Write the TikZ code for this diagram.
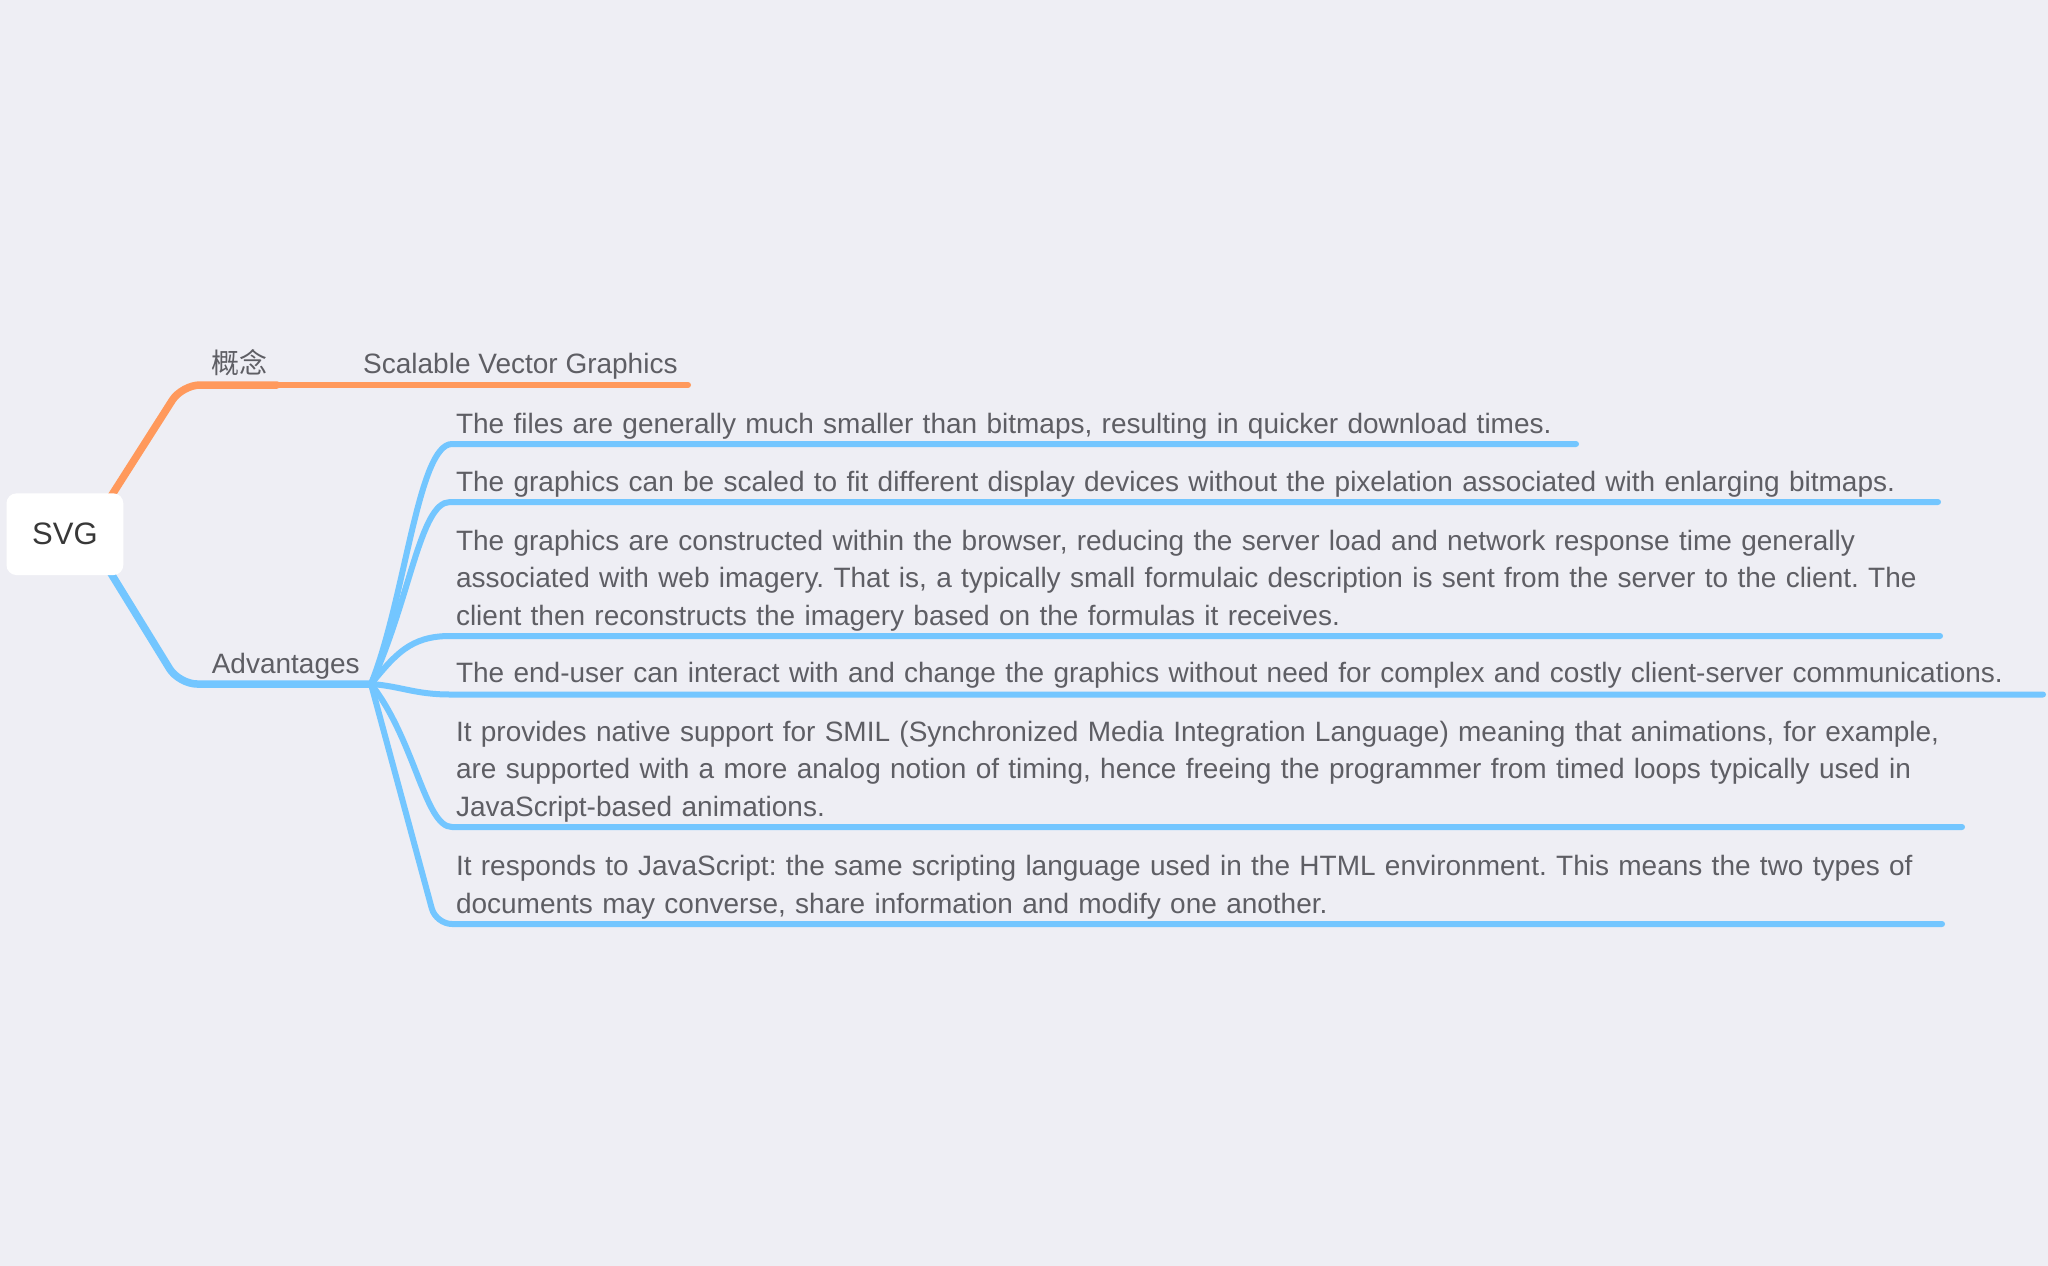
\documentclass[tikz,border=0pt]{standalone}
\usepackage{fontspec}
\setmainfont{Liberation Sans}
\newfontfamily\cjkfont{Noto Sans CJK SC}
\usetikzlibrary{calc}
\definecolor{bgc}{HTML}{EEEEF4}
\definecolor{bluec}{HTML}{73C6FF}
\definecolor{orangec}{HTML}{FF995C}
\definecolor{txtc}{HTML}{5E5E64}
\definecolor{rootc}{HTML}{383838}
\pgfdeclarelayer{back}
\pgfdeclarelayer{bg}
\pgfsetlayers{back,bg,main}
\frenchspacing
\begin{document}
\begin{tikzpicture}[x=1pt,y=-1pt,
  txt/.style={anchor=base west, inner sep=0pt, text=txtc, font=\fontsize{28}{37.5}\selectfont\frenchspacing},
  para/.style={txt, text width=1600pt, align=left},
  rootbox/.style={fill=white, rounded corners=10pt, minimum width=116.8pt, minimum height=81.7pt, inner sep=0pt, text=rootc, font=\fontsize{31}{37}\selectfont},
  bbr/.style={draw=bluec, line width=7.5pt, line cap=round, line join=round},
  bsub/.style={draw=bluec, line width=6pt, line cap=round, line join=round},
  obr/.style={draw=orangec, line width=7.5pt, line cap=round, line join=round},
  osub/.style={draw=orangec, line width=6pt, line cap=round},
]
\begin{pgfonlayer}{back}
\fill[bgc] (0,0) rectangle (2048,1266);
\end{pgfonlayer}
\useasboundingbox (0,0) rectangle (2048,1266);

% nodes
\node[rootbox] (svg) at (64.9,534.2) {SVG};
\node[txt] (concept) at (211.6,373) {\cjkfont 概念};
\node[txt] (sdef) at (363,373.5) {Scalable Vector Graphics};
\node[txt] (adv) at (211.6,673) {Advantages};
\node[para] (i1) at (455.8,433) {The files are generally much smaller than bitmaps, resulting in quicker download times.};
\node[para] (i2) at (455.8,491) {The graphics can be scaled to fit different display devices without the pixelation associated with enlarging bitmaps.};
\node[para] (i3) at (455.8,550) {The graphics are constructed within the browser, reducing the server load and network response time generally\\associated with web imagery. That is, a typically small formulaic description is sent from the server to the client. The\\client then reconstructs the imagery based on the formulas it receives.};
\node[para] (i4) at (455.8,682.5) {The end-user can interact with and change the graphics without need for complex and costly client-server communications.};
\node[para] (i5) at (455.8,741) {It provides native support for SMIL (Synchronized Media Integration Language) meaning that animations, for example,\\are supported with a more analog notion of timing, hence freeing the programmer from timed loops typically used in\\JavaScript-based animations.};
\node[para] (i6) at (455.8,875.5) {It responds to JavaScript: the same scripting language used in the HTML environment. This means the two types of\\documents may converse, share information and modify one another.};

% coordinates
\coordinate (hub) at (371,684);
\coordinate (o1) at (277,385);
\coordinate (o2) at (688,385);
\coordinate (u1a) at (452,444);   \coordinate (u1b) at (1576,444);
\coordinate (u2a) at (450,502);   \coordinate (u2b) at (1938,502);
\coordinate (u3a) at (450,636);   \coordinate (u3b) at (1940,636);
\coordinate (u4a) at (450,694.5); \coordinate (u4b) at (2043,694.5);
\coordinate (u5a) at (452,827);   \coordinate (u5b) at (1962,827);
\coordinate (u6c) at (436,924);   \coordinate (u6b) at (1942,924);

\begin{pgfonlayer}{bg}
% orange branch
\draw[obr, rounded corners=18pt] ([xshift=22pt]svg.center) -- (182,385) -- (o1);
\draw[osub] (o1) -- (o2);
% blue branch
\draw[bbr, rounded corners=18pt] ([xshift=22pt]svg.center) -- (179,684) -- (hub);
% sub branches
\draw[bsub] (hub) .. controls (405,600) and (418,444) .. (u1a) -- (u1b);
\draw[bsub] (hub) .. controls (410,600) and (420,502) .. (u2a) -- (u2b);
\draw[bsub] (hub) .. controls (395,655) and (410,636) .. (u3a) -- (u3b);
\draw[bsub] (hub) .. controls (400,686) and (415,694.5) .. (u4a) -- (u4b);
\draw[bsub] (hub) .. controls (415,740) and (425,827) .. (u5a) -- (u5b);
\draw[bsub, rounded corners=16pt] (hub) -- (u6c) -- (u6b);
\end{pgfonlayer}
\end{tikzpicture}
\end{document}
